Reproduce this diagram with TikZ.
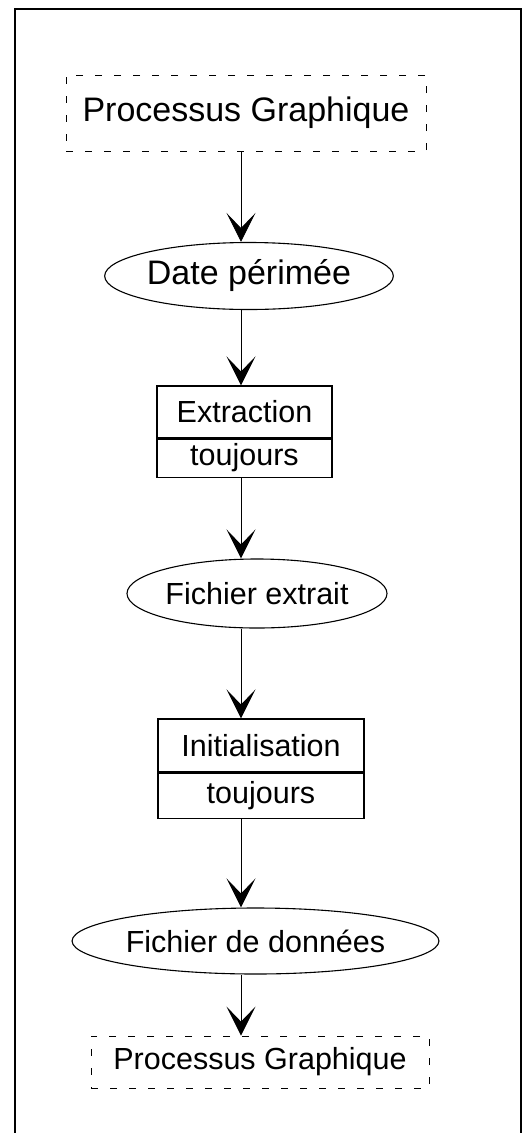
\documentclass[tikz,border=0pt]{standalone}
\usepackage{fontspec}
\setmainfont{Liberation Sans}
\usetikzlibrary{shapes}
\usetikzlibrary{arrows.meta}
\usetikzlibrary{positioning}

\begin{document}
\begin{tikzpicture}[x=1pt, y=-1pt,
	grand/.style={font=\fontsize{34}{40}\selectfont},
	petit/.style={font=\fontsize{30.5}{36}\selectfont},
	ovale/.style={draw, ellipse, line width=1.1pt, inner sep=0pt, petit},
	boite/.style={draw, rectangle, line width=1.1pt, inner sep=0pt, petit},
	pointille/.style={draw, rectangle, dash pattern=on 7pt off 12pt, line width=0.9pt, inner sep=0pt},
	fleche/.style={line width=0.9pt, -{Stealth[length=29pt, width=29pt, inset=15pt]}}]
	% Cadre de la page
	\useasboundingbox (0,0) rectangle (529,1133);
	\draw[line width=1.6pt] (15,1133) -- (15,9) -- (521,9) -- (521,1133);
	
	% Axe des fleches
	\coordinate (axe) at (241,0);
	
	%% PROCESSUS GRAPHIQUE (DEPART) %%
	\node[pointille, grand, minimum width=360pt, minimum height=76pt] (pg1) at (246,113) {Processus Graphique};
	
	%% DATE PERIMEE %%
	\node[ovale, grand, minimum width=262pt, minimum height=67pt] (date) at (249,276) {Date périmée};
	
	%% EXTRACTION %%
	\node[boite, minimum width=175pt, minimum height=52pt] (ext) at (244.5,412) {Extraction};
	\node[boite, minimum width=175pt, minimum height=38pt, below=0pt of ext] (extT) {toujours};
	
	%% FICHIER EXTRAIT %%
	\node[ovale, minimum width=260pt, minimum height=69pt] (fext) at (257,593.5) {Fichier extrait};
	
	%% INITIALISATION %%
	\node[boite, minimum width=206pt, minimum height=53pt] (init) at (261,745.5) {Initialisation};
	\node[boite, minimum width=206pt, minimum height=45pt, below=0pt of init] (initT) {toujours};
	
	%% FICHIER DE DONNEES %%
	\node[ovale, minimum width=331pt, minimum height=66pt] (donn) at (255.5,941) {Fichier de données};
	
	%% PROCESSUS GRAPHIQUE (ARRIVEE) %%
	\node[pointille, petit, minimum width=338pt, minimum height=52pt] (pg2) at (260,1062) {Processus Graphique};
	
	% Relier les etapes
	\draw[fleche] (pg1.south -| axe) -- (date.north -| axe);
	\draw[fleche] (date.south -| axe) -- (ext.north -| axe);
	\draw[fleche] (extT.south -| axe) -- (fext.north -| axe);
	\draw[fleche] (fext.south -| axe) -- (init.north -| axe);
	\draw[fleche] (initT.south -| axe) -- (donn.north -| axe);
	\draw[fleche] (donn.south -| axe) -- (pg2.north -| axe);
\end{tikzpicture}
\end{document}
